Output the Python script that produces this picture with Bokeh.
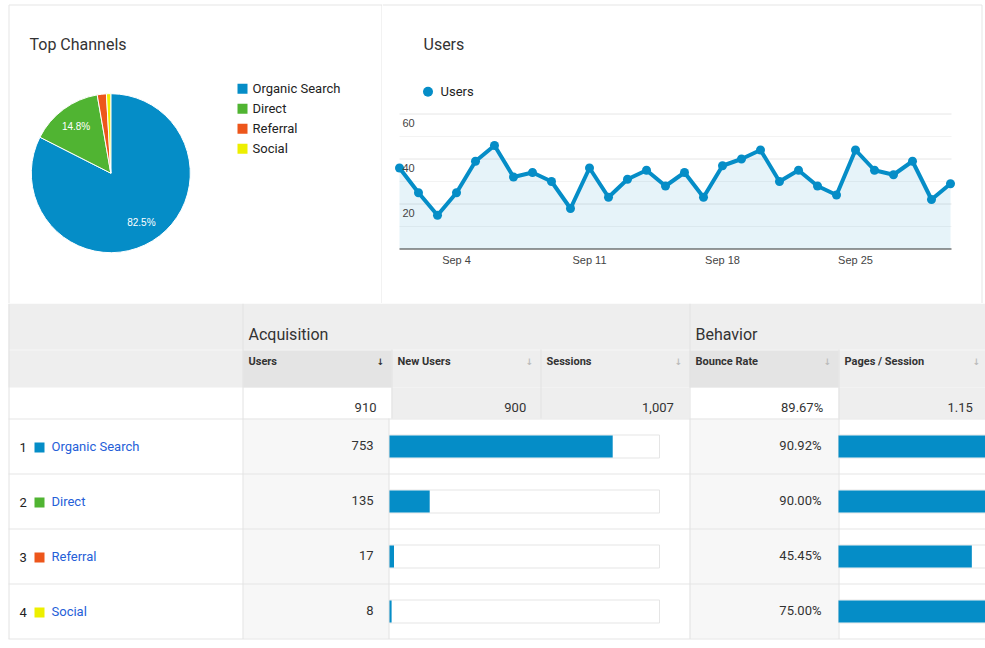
import math
from itertools import accumulate

from bokeh.plotting import figure
from bokeh.models import Range1d
from bokeh.layouts import column, row
from bokeh.core.properties import value
from bokeh.embed import file_html
from bokeh.resources import INLINE

# ---------------------------------------------------------------- data
channels = ["Organic Search", "Direct", "Referral", "Social"]
channel_colors = ["#058dc7", "#50b432", "#ed561b", "#edef00"]
channel_users = [753, 135, 17, 8]
channel_new_users = [744, 134, 15, 7]
channel_bounce_rate = [90.92, 90.00, 45.45, 75.00]
channel_pages_per_session = [1.16, 1.20, 1.00, 1.17]

total_users = 910
total_new_users = 900
total_sessions = 1007
total_bounce_rate = 89.67
total_pages_per_session = 1.15

days = list(range(1, 31))  # September
daily_users = [36, 25, 15, 25, 39, 46, 32, 34, 30, 18,
               36, 23, 31, 35, 28, 34, 23, 37, 40, 44,
               30, 35, 28, 24, 44, 35, 33, 39, 22, 29]
x_tick_days = [4, 11, 18, 25]
x_tick_labels = ["Sep 4", "Sep 11", "Sep 18", "Sep 25"]
y_grid_values = [10, 20, 30, 40, 50, 60]
y_tick_values = [20, 40, 60]

# ---------------------------------------------------------------- style
FONT = value("Roboto")
CHART_FONT = value("Liberation Sans")
BLUE = "#058dc7"
BORDER = "#e5e5e5"
TEXT = "#333333"
LINK = "#2560d8"


def canvas(w, h, x0, y0):
    """A bare figure whose main ranges are page pixels (y grows downwards)."""
    p = figure(width=w, height=h, x_range=Range1d(x0, x0 + w), y_range=Range1d(y0 + h, y0),
               output_backend="svg", toolbar_location=None, min_border=0,
               x_axis_location=None, y_axis_location=None)
    p.xgrid.visible = False
    p.ygrid.visible = False
    p.outline_line_color = None
    p.background_fill_color = "white"
    p.border_fill_color = "white"
    return p


# ---------------------------------------------------------------- pie panel
pie = canvas(382, 303, 0, 0)
pie.line(x=[8.5, 8.5, 381.5, 381.5], y=[303, 4.5, 4.5, 303], line_color=BORDER)
pie.text(x=[29], y=[43.5], text=["Top Channels"], text_font=FONT, text_font_size="16px",
         text_color=TEXT, text_baseline="middle")

PIE_X, PIE_Y, PIE_R = 110.3, 172.7, 79.5
total = sum(channel_users)
shares = [u / total for u in channel_users]
cum = [0.0] + list(accumulate(shares))
start_angle = [math.pi / 2 - 2 * math.pi * c for c in cum[:-1]]
end_angle = [math.pi / 2 - 2 * math.pi * c for c in cum[1:]]
pie.wedge(x=PIE_X, y=PIE_Y, radius=PIE_R, radius_units="screen",
          start_angle=start_angle, end_angle=end_angle, direction="clock",
          fill_color=channel_colors, line_color="white", line_width=1)

lab_x, lab_y, lab_t = [], [], []
for s, c0, c1 in zip(shares, cum[:-1], cum[1:]):
    if s < 0.05:
        continue
    theta = 2 * math.pi * (c0 + c1) / 2
    lab_x.append(PIE_X + 0.735 * PIE_R * math.sin(theta))
    lab_y.append(PIE_Y - 0.735 * PIE_R * math.cos(theta))
    lab_t.append(f"{100 * s:.1f}%")
pie.text(x=lab_x, y=lab_y, text=lab_t, text_font=CHART_FONT, text_font_size="10px",
         text_color="white", text_align="center", text_baseline="middle")

leg_y = [88.3 + 20 * i for i in range(len(channels))]
pie.scatter(x=242, y=leg_y, marker="square", size=10, fill_color=channel_colors, line_color=None)
pie.text(x=252, y=leg_y, text=channels, text_font=FONT, text_font_size="13px",
         text_color="#222222", text_baseline="middle")

# ---------------------------------------------------------------- users line panel
line = canvas(603, 303, 382, 0)
line.line(x=[382, 981.5, 981.5], y=[4.5, 4.5, 303], line_color=BORDER)
line.text(x=[423], y=[43.5], text=["Users"], text_font=FONT, text_font_size="16px",
          text_color=TEXT, text_baseline="middle")
line.scatter(x=[427.5], y=[91.3], size=10, fill_color=BLUE, line_color=None)
line.text(x=[440], y=[91], text=["Users"], text_font=FONT, text_font_size="13px",
          text_color="#222222", text_baseline="middle")

DAY1_X, PX_PER_DAY = 399.0, 19.0
ZERO_Y, PX_PER_USER = 248.5, 2.25
line.extra_x_ranges = {"day": Range1d(days[0] + (382 - DAY1_X) / PX_PER_DAY,
                                      days[0] + (985 - DAY1_X) / PX_PER_DAY)}
line.extra_y_ranges = {"users": Range1d((ZERO_Y - 303) / PX_PER_USER, ZERO_Y / PX_PER_USER)}
DR = dict(x_range_name="day", y_range_name="users")

x_lo, x_hi = days[0], days[-1] + 1 / PX_PER_DAY
grid_colors = ["#e6e6e6" if v in y_tick_values else "#f3f3f3" for v in y_grid_values]
line.segment(x0=x_lo, x1=x_hi, y0=y_grid_values, y1=y_grid_values,
             line_color=grid_colors, line_width=1, **DR)
line.varea(x=days, y1=0, y2=daily_users, fill_color=BLUE, fill_alpha=0.1, **DR)
line.segment(x0=[x_lo], x1=[x_hi], y0=[0], y1=[0], line_color="#333333", line_width=1, **DR)
line.line(x=days, y=daily_users, line_color=BLUE, line_width=4, line_join="round", **DR)
line.scatter(x=days, y=daily_users, size=9, fill_color=BLUE, line_color=None, **DR)
line.text(x=days[0], y=y_tick_values, text=[str(v) for v in y_tick_values], x_offset=3, y_offset=9,
          text_font=CHART_FONT, text_font_size="11px", text_color="#444444",
          text_baseline="middle", **DR)
line.text(x=x_tick_days, y=0, text=x_tick_labels, y_offset=11, text_font=CHART_FONT,
          text_font_size="11px", text_color="#444444", text_align="center",
          text_baseline="middle", **DR)

# ---------------------------------------------------------------- channel table
table = canvas(985, 345, 0, 303)
L, R = 8, 985
C_USERS, C_NEW, C_SESS, C_BOUNCE, C_PAGES = 243, 391, 540, 689, 838
ROW_TOP, ROW_H = 418, 55
row_mid = [ROW_TOP + ROW_H / 2 + 0.5 + ROW_H * i for i in range(len(channels))]

# backgrounds
table.quad(left=L, right=R, top=303, bottom=387, fill_color="#eeeeee", line_color=None)
table.quad(left=[C_USERS, C_BOUNCE], right=[C_NEW, C_PAGES], top=349, bottom=387,
           fill_color="#e4e4e4", line_color=None)
table.quad(left=[C_NEW, C_PAGES], right=[C_BOUNCE, R], top=387, bottom=ROW_TOP,
           fill_color="#eeeeee", line_color=None)
table.quad(left=[C_USERS, C_BOUNCE], right=[C_NEW - 2.5, C_PAGES], top=ROW_TOP,
           bottom=ROW_TOP + 4 * ROW_H, fill_color="#f7f7f7", line_color=None)

# rules
table.segment(x0=L, x1=R, y0=[349.5], y1=[349.5], line_color="#f6f6f6")
h_rules = [ROW_TOP + 0.5 + ROW_H * i for i in range(len(channels) + 1)]
table.segment(x0=L, x1=R, y0=h_rules, y1=h_rules, line_color=BORDER)
v_x = [L + 0.5, C_USERS - 0.5, C_BOUNCE + 0.5, C_PAGES + 0.5, C_NEW - 2.5, C_NEW + 0.5, C_SESS + 0.5]
v_top = [303, 303, 303, 349, ROW_TOP, 349, 349]
v_bot = [h_rules[-1]] * 5 + [ROW_TOP, ROW_TOP]
table.segment(x0=v_x, x1=v_x, y0=v_top, y1=v_bot, line_color="#e2e2e2")

# headings
table.text(x=[248, 695], y=[334, 334], text=["Acquisition", "Behavior"], text_font=FONT,
           text_font_size="16px", text_color=TEXT, text_baseline="middle")
table.text(x=[248, 397, 546, 695, 844], y=361,
           text=["Users", "New Users", "Sessions", "Bounce Rate", "Pages / Session"],
           text_font=FONT, text_font_size="11px", text_font_style="bold", text_color=TEXT,
           text_baseline="middle")
table.text(x=[380, 529, 678, 827, 976], y=361.5, text=["↓"] * 5,
           text_color=["#333333", "#bbbbbb", "#bbbbbb", "#bbbbbb", "#bbbbbb"],
           text_font=value("DejaVu Sans"), text_font_size="9px", text_font_style="bold",
           text_align="center", text_baseline="middle")

# totals
table.text(x=[376, 525.7, 673.3, 822.7, 972.3], y=406.5,
           text=[f"{total_users:,}", f"{total_new_users:,}", f"{total_sessions:,}",
                 f"{total_bounce_rate:.2f}%", f"{total_pages_per_session:.2f}"],
           text_font=FONT, text_font_size="13px", text_color=TEXT, text_align="right",
           text_baseline="middle")

# channel rows
table.text(x=19, y=[m + 0.5 for m in row_mid], text=[str(i + 1) for i in range(len(channels))],
           text_font=FONT, text_font_size="13px", text_color="#222222", text_baseline="middle")
table.scatter(x=39, y=[m + 1 for m in row_mid], marker="square", size=10,
              fill_color=channel_colors, line_color=None)
table.text(x=51, y=row_mid, text=channels, text_font=FONT, text_font_size="13px",
           text_color=LINK, text_baseline="middle")
table.text(x=373, y=[m - 1 for m in row_mid], text=[f"{u:,}" for u in channel_users],
           text_font=FONT, text_font_size="13px", text_color=TEXT, text_align="right",
           text_baseline="middle")
table.text(x=821, y=[m - 1 for m in row_mid], text=[f"{b:.2f}%" for b in channel_bounce_rate],
           text_font=FONT, text_font_size="13px", text_color=TEXT, text_align="right",
           text_baseline="middle")

# bar cells: new-user share and pages / session
NEW_BAR_W = 270.0
new_total = sum(channel_new_users)
new_share = [n / new_total for n in channel_new_users]
PAGES_BAR_W = 160.0
k = PAGES_BAR_W / max(channel_pages_per_session)
table.extra_x_ranges = {
    "new_share": Range1d(-(C_NEW - 2) / NEW_BAR_W, (R - (C_NEW - 2)) / NEW_BAR_W),
    "pages": Range1d(-C_PAGES / k, (R - C_PAGES) / k),
}
BAR_H = 22
table.quad(left=C_NEW - 2, right=C_NEW - 2 + NEW_BAR_W, top=[m - 11.5 for m in row_mid],
           bottom=[m + 11.5 for m in row_mid], fill_color="white", line_color=BORDER)
table.quad(left=C_PAGES, right=R + 50, top=[m - 11.5 for m in row_mid],
           bottom=[m + 11.5 for m in row_mid], fill_color="white", line_color=BORDER)
table.hbar(y=row_mid, left=0, right=new_share, height=BAR_H, fill_color=BLUE,
           line_color=None, x_range_name="new_share")
table.hbar(y=row_mid, left=0, right=channel_pages_per_session, height=BAR_H, fill_color=BLUE,
           line_color=None, x_range_name="pages")

page = column(row(pie, line), table)
open("out.html", "w").write(file_html(page, INLINE))
